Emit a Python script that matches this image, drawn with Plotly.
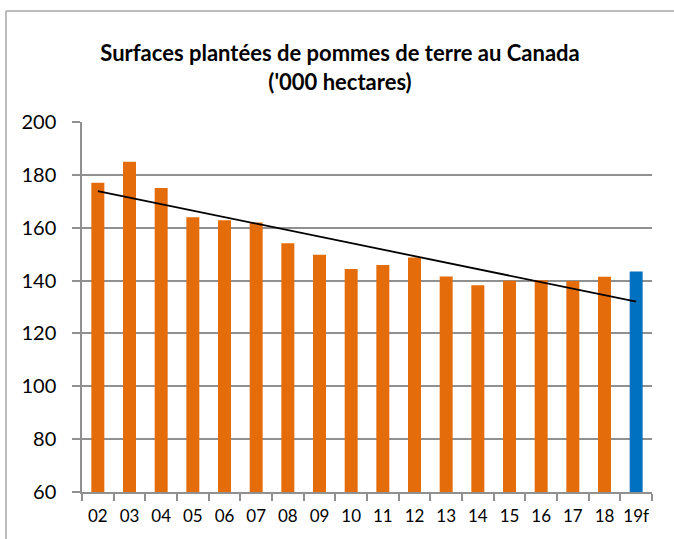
import numpy as np
import plotly.graph_objects as go

# Data ('000 hectares)
years = ["02", "03", "04", "05", "06", "07", "08", "09", "10",
         "11", "12", "13", "14", "15", "16", "17", "18", "19f"]
area = [177.0, 185.0, 175.0, 164.0, 162.8, 162.0, 154.1, 149.8, 144.4,
        145.9, 148.7, 141.5, 138.2, 139.9, 140.1, 139.8, 141.4, 143.4]
forecast_label = "19f"

ORANGE = "#E46C0A"
BLUE = "#0070C0"
GRID = "#909090"
FONT = "Lato"

bar_colors = [BLUE if y == forecast_label else ORANGE for y in years]

# linear trend line over all points (as the Excel trendline)
idx = np.arange(len(area))
slope, intercept = np.polyfit(idx, area, 1)
trend = slope * idx + intercept

fig = go.Figure()
fig.add_trace(go.Bar(
    x=years, y=area,
    marker=dict(color=bar_colors, line=dict(width=0)),
    showlegend=False,
    hoverinfo="x+y"))
fig.add_trace(go.Scatter(
    x=[years[0], years[-1]], y=[trend[0], trend[-1]],
    mode="lines",
    line=dict(color="black", width=1.8),
    showlegend=False,
    hoverinfo="skip"))

fig.update_layout(
    width=674, height=539,
    margin=dict(l=82, r=22, t=122, b=47),
    paper_bgcolor="white",
    plot_bgcolor="white",
    bargap=0.59,
    font=dict(family=FONT, color="black"),
    title=dict(
        text="<b>Surfaces plantées de pommes de terre au Canada<br>('000 hectares)</b>",
        x=340 / 674, xref="container", xanchor="center",
        y=1 - 61 / 539, yref="container", yanchor="middle",
        font=dict(family=FONT, size=22, color="black")),
    xaxis=dict(
        type="category",
        showline=True, linecolor=GRID, linewidth=1.5,
        ticks="outside", tickson="boundaries", ticklen=7,
        tickcolor=GRID, tickwidth=1.5,
        showgrid=False,
        tickangle=0,
        tickfont=dict(family=FONT, size=17, color="black"),
        ticklabelstandoff=8),
    yaxis=dict(
        range=[60, 200], dtick=20,
        showline=True, linecolor=GRID, linewidth=1.5,
        ticks="outside", ticklen=8, tickcolor=GRID, tickwidth=1.5,
        showgrid=True, gridcolor=GRID, gridwidth=1.5,
        zeroline=False,
        ticklabelstandoff=12,
        tickfont=dict(family=FONT, size=20, color="black")),
    shapes=[
        # outer chart frame (left and top edges visible)
        dict(type="line", xref="paper", yref="paper",
             x0=(6 - 82) / 570, x1=(6 - 82) / 570,
             y0=(492 - 539) / 370, y1=(492 - 11) / 370,
             line=dict(color="#A6A6A6", width=1.5)),
        dict(type="line", xref="paper", yref="paper",
             x0=(6 - 82) / 570, x1=(674 - 82) / 570,
             y0=(492 - 11) / 370, y1=(492 - 11) / 370,
             line=dict(color="#A6A6A6", width=1.5)),
    ],
)

# remove the default page margin so the figure sits at the window's corner
fig.write_html("out.html",
               config={"displayModeBar": False},
               post_script="document.body.style.margin='0';"
                           "document.body.style.overflow='hidden';"
                           "document.documentElement.style.overflow='hidden';")
